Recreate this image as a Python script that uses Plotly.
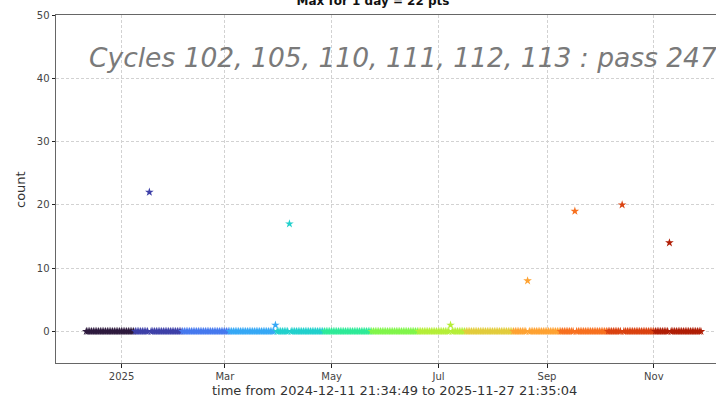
import pandas as pd
import plotly.graph_objects as go

# ---- data ----
start_time = "2024-12-11 21:34:49"
end_time = "2025-11-27 21:35:04"
peak_dates = ["2025-01-16", "2025-03-29", "2025-04-06", "2025-07-07",
              "2025-08-20", "2025-09-16", "2025-10-13", "2025-11-09"]
peak_counts = [22, 1, 17, 1, 8, 19, 20, 14]
tick_dates = ["2025-01-01", "2025-03-01", "2025-05-01", "2025-07-01", "2025-09-01", "2025-11-01"]
tick_labels = ["2025", "Mar", "May", "Jul", "Sep", "Nov"]
y_ticks = [0, 10, 20, 30, 40, 50]
note_text = "Cycles 102, 105, 110, 111, 112, 113 : pass 247"
title_text = "Max for 1 day = 22 pts"

# style: 13 colour bands (turbo-like) along time
band_colors = ["#2e1a3e", "#3e40a8", "#4679ee", "#36a8f5", "#21d0cc", "#2eea98",
               "#80f54a", "#b5ee38", "#e2cc3c", "#fea232", "#f7701f", "#da4210", "#b01e06"]

days = pd.date_range(start_time, end_time, freq="D")
peaks = dict(zip(pd.to_datetime(peak_dates).date, peak_counts))
counts = [peaks.get(d.date(), 0) for d in days]

t0, t1 = pd.Timestamp(start_time), pd.Timestamp(end_time)
nb = len(band_colors)
colors = [band_colors[min(nb - 1, int(nb * (d - t0) / (t1 - t0)))] for d in days]

W, H = 716, 398
L, T, Bt = 56, 15, 363  # plot area left, top, bottom (pixels)

fig = go.Figure()
fig.add_trace(go.Scatter(
    x=days, y=counts, mode="markers",
    marker=dict(symbol="star", size=6.5, color=colors, line=dict(width=0)),
    showlegend=False, hoverinfo="x+y",
))

grid = dict(showgrid=True, gridcolor="#d2d2d2", gridwidth=0.8, griddash="3px,2px")
tickfont = dict(family="DejaVu Sans", size=10, color="#444")
fig.update_xaxes(
    domain=[L / W, 1], automargin=False,
    range=["2024-11-24 14:00", "2025-12-06 12:00"],
    tickvals=pd.to_datetime(tick_dates), ticktext=tick_labels,
    ticks="outside", ticklen=3.5, tickwidth=1, tickcolor="#222",
    showline=True, linecolor="#666", linewidth=1, mirror=True,
    tickfont=tickfont, zeroline=False, **grid,
)
fig.update_yaxes(
    domain=[1 - Bt / H, 1 - T / H], automargin=False,
    range=[-5, 50], tickvals=y_ticks,
    ticks="outside", ticklen=3.5, tickwidth=1, tickcolor="#222",
    showline=True, linecolor="#666", linewidth=1, mirror=False,
    tickfont=tickfont, zeroline=False, **grid,
)

def px_x(px):
    return px / W

def px_y(py):
    return 1 - py / H

fig.update_layout(
    width=W, height=H,
    margin=dict(l=0, r=0, t=0, b=0, pad=0),
    plot_bgcolor="white", paper_bgcolor="white",
    title=dict(text=title_text, x=px_x(373), xref="container", xanchor="center",
               y=0.997, yref="container", yanchor="middle",
               font=dict(family="DejaVu Sans", size=12, color="#111", weight="bold")),
    annotations=[
        dict(text=note_text, xref="paper", yref="paper", x=px_x(87), y=px_y(57),
             xanchor="left", yanchor="middle", showarrow=False,
             font=dict(family="DejaVu Sans", size=26.5, color="#7a7a7a", style="italic")),
        dict(text="time from " + start_time + " to " + end_time, xref="paper", yref="paper",
             x=px_x(394), y=px_y(390), xanchor="center", yanchor="middle", showarrow=False,
             font=dict(family="DejaVu Sans", size=13, color="#333")),
        dict(text="count", xref="paper", yref="paper", x=px_x(21), y=px_y(190),
             xanchor="center", yanchor="middle", showarrow=False, textangle=-90,
             font=dict(family="DejaVu Sans", size=13, color="#333")),
    ],
)

fig.write_html("out.html", config={"displayModeBar": False},
               post_script="document.body.style.margin='0';document.body.style.overflow='hidden';")
